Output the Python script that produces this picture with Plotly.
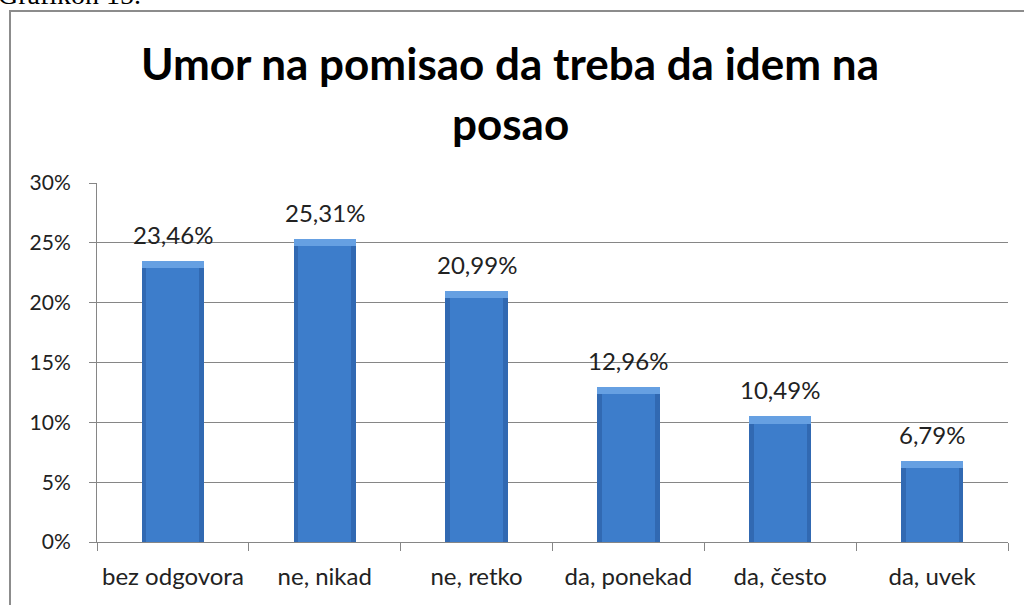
import plotly.graph_objects as go

categories = ["bez odgovora", "ne, nikad", "ne, retko", "da, ponekad", "da, često", "da, uvek"]
values = [23.46, 25.31, 20.99, 12.96, 10.49, 6.79]
y_ticks = [0, 5, 10, 15, 20, 25, 30]
y_tick_labels = ["0%", "5%", "10%", "15%", "20%", "25%", "30%"]
title_line1 = "Umor na pomisao da treba da idem na"
title_line2 = "posao"
caption = "Grafikon 15."

W, H = 1024, 605
L, R, T, B = 97, 1008, 183, 542  # plot area in pixels


def px_x(x):
    return (x - L) / (R - L)


def px_y(y):
    return (B - y) / (B - T)


FONT = "Lato"
labels = [f"{v:.2f}".replace(".", ",") + "%" for v in values]

fig = go.Figure()
# outer (darker edge) bar
fig.add_trace(go.Bar(x=categories, y=values, width=0.41,
                     marker=dict(color="#3169B2", line=dict(width=0)),
                     hoverinfo="skip", showlegend=False))
# inner body
fig.add_trace(go.Bar(x=categories, y=values, width=0.35,
                     marker=dict(color="#3D7DCB", line=dict(width=0)),
                     hoverinfo="skip", showlegend=False))
# light top bevel
fig.add_trace(go.Bar(x=categories, y=[0.6] * len(values), base=[v - 0.6 for v in values],
                     width=0.41, marker=dict(color="#66A0E2", line=dict(width=0)),
                     hoverinfo="skip", showlegend=False))

for c, v, t in zip(categories, values, labels):
    fig.add_annotation(x=c, y=v, text=t, showarrow=False, yanchor="bottom", yshift=10,
                       font=dict(family=FONT, size=24, color="#222222"))

fig.add_annotation(xref="paper", yref="paper", x=px_x(510), y=px_y(63), text=title_line1,
                   showarrow=False, xanchor="center", yanchor="middle",
                   font=dict(family=FONT, size=44, color="#000000", weight="bold"))
fig.add_annotation(xref="paper", yref="paper", x=px_x(510), y=px_y(123), text=title_line2,
                   showarrow=False, xanchor="center", yanchor="middle",
                   font=dict(family=FONT, size=44, color="#000000", weight="bold"))
fig.add_annotation(xref="paper", yref="paper", x=px_x(-4), y=px_y(12), text=caption,
                   showarrow=False, xanchor="left", yanchor="bottom",
                   font=dict(family="Liberation Serif", size=28, color="#000000"))

# chart frame
fig.add_shape(type="rect", xref="paper", yref="paper",
              x0=px_x(10), x1=px_x(1040), y0=px_y(640), y1=px_y(11),
              line=dict(color="#8C8C8C", width=2), fillcolor="rgba(0,0,0,0)", layer="below")

fig.update_layout(
    width=W, height=H,
    margin=dict(l=L, r=W - R, t=T, b=H - B),
    paper_bgcolor="white", plot_bgcolor="white",
    barmode="overlay", bargap=0,
    font=dict(family=FONT, size=18, color="#222222"),
)
fig.update_xaxes(showline=True, linecolor="#868686", linewidth=1,
                 ticks="outside", tickson="boundaries", ticklen=8, tickcolor="#868686",
                 tickfont=dict(family=FONT, size=24, color="#222222"),
                 ticklabelstandoff=13, showgrid=False)
fig.update_yaxes(range=[0, 30], tickvals=y_ticks, ticktext=y_tick_labels,
                 showline=True, linecolor="#868686", linewidth=1,
                 ticks="outside", ticklen=7, tickcolor="#868686",
                 showgrid=True, gridcolor="#868686", gridwidth=1,
                 tickfont=dict(family=FONT, size=21, color="#222222"),
                 ticklabelstandoff=14, zeroline=False)

fig.write_html("out.html", config={"displayModeBar": False},
               post_script="document.body.style.margin='0';")
